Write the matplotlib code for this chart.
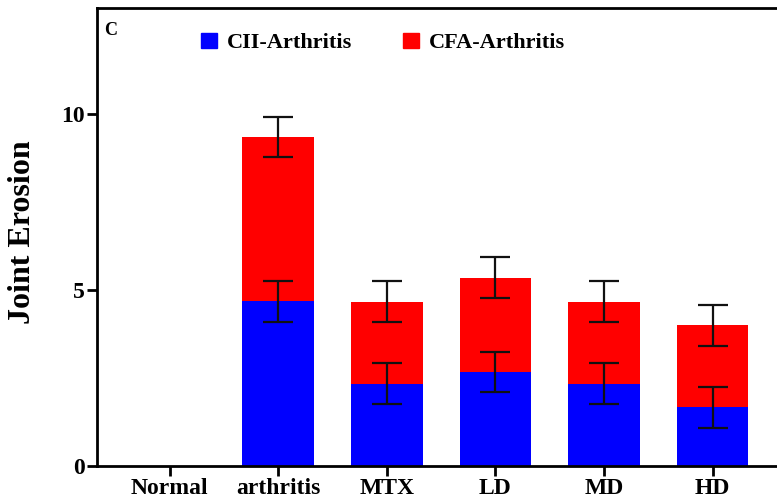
import matplotlib
matplotlib.use('Agg')
import matplotlib.pyplot as plt
from matplotlib.patches import Patch
import numpy as np

groups = ['Normal', 'arthritis', 'MTX', 'LD', 'MD', 'HD']
cii_mean = [0, 4.67, 2.33, 2.67, 2.33, 1.67]
cii_err = [0, 0.58, 0.58, 0.58, 0.58, 0.58]
cfa_mean = [0, 4.67, 2.33, 2.67, 2.33, 2.33]
cfa_err = [0, 0.58, 0.58, 0.58, 0.58, 0.58]

plt.rcParams['font.family'] = ['Liberation Serif', 'DejaVu Serif']
plt.rcParams['font.weight'] = 'bold'

fig = plt.figure(figsize=(7.77, 4.99), dpi=100)
ax = fig.add_axes([97 / 777, 33 / 499, 1 - 97 / 777, 458 / 499])

x = np.arange(len(groups))
w = 0.66
cii_top = np.array(cii_mean)
total = cii_top + np.array(cfa_mean)
has = total > 0

ax.bar(x, cii_mean, w, color='#0000ff', zorder=2)
ax.bar(x, cfa_mean, w, bottom=cii_mean, color='#ff0000', zorder=2)
ekw = dict(fmt='none', ecolor='#111111', elinewidth=1.6, capsize=11, capthick=1.6, zorder=3)
ax.errorbar(x[has], cii_top[has], yerr=np.array(cii_err)[has], **ekw)
ax.errorbar(x[has], total[has], yerr=np.array(cfa_err)[has], **ekw)

ax.set_xlim(-0.67, 5.594)
ax.set_ylim(0, 13)
ax.set_yticks([0, 5, 10])
ax.set_xticks(x)
ax.set_xticklabels(groups)
ax.tick_params(axis='both', direction='out', length=7, width=2, labelsize=17)
ax.tick_params(axis='x', pad=2)
ax.tick_params(axis='y', pad=2)
for s in ['left', 'bottom', 'top']:
    ax.spines[s].set_linewidth(2)
ax.spines['right'].set_visible(False)

ax.set_ylabel('Joint Erosion', fontsize=23, fontweight='bold')
ax.yaxis.set_label_coords(-0.088, 0.51)
ax.text(0.011, 0.97, 'C', transform=ax.transAxes, fontsize=13, fontweight='bold', va='top')

handles = [Patch(color='#0000ff', label='CII-Arthritis'), Patch(color='#ff0000', label='CFA-Arthritis')]
ax.legend(handles=handles, loc='upper left', bbox_to_anchor=(0.123, 0.99), ncol=2, frameon=False,
          handlelength=0.72, handleheight=0.72, handletextpad=0.45, columnspacing=2.3,
          prop={'size': 16, 'weight': 'bold'})

fig.savefig('out.png', dpi=100)
